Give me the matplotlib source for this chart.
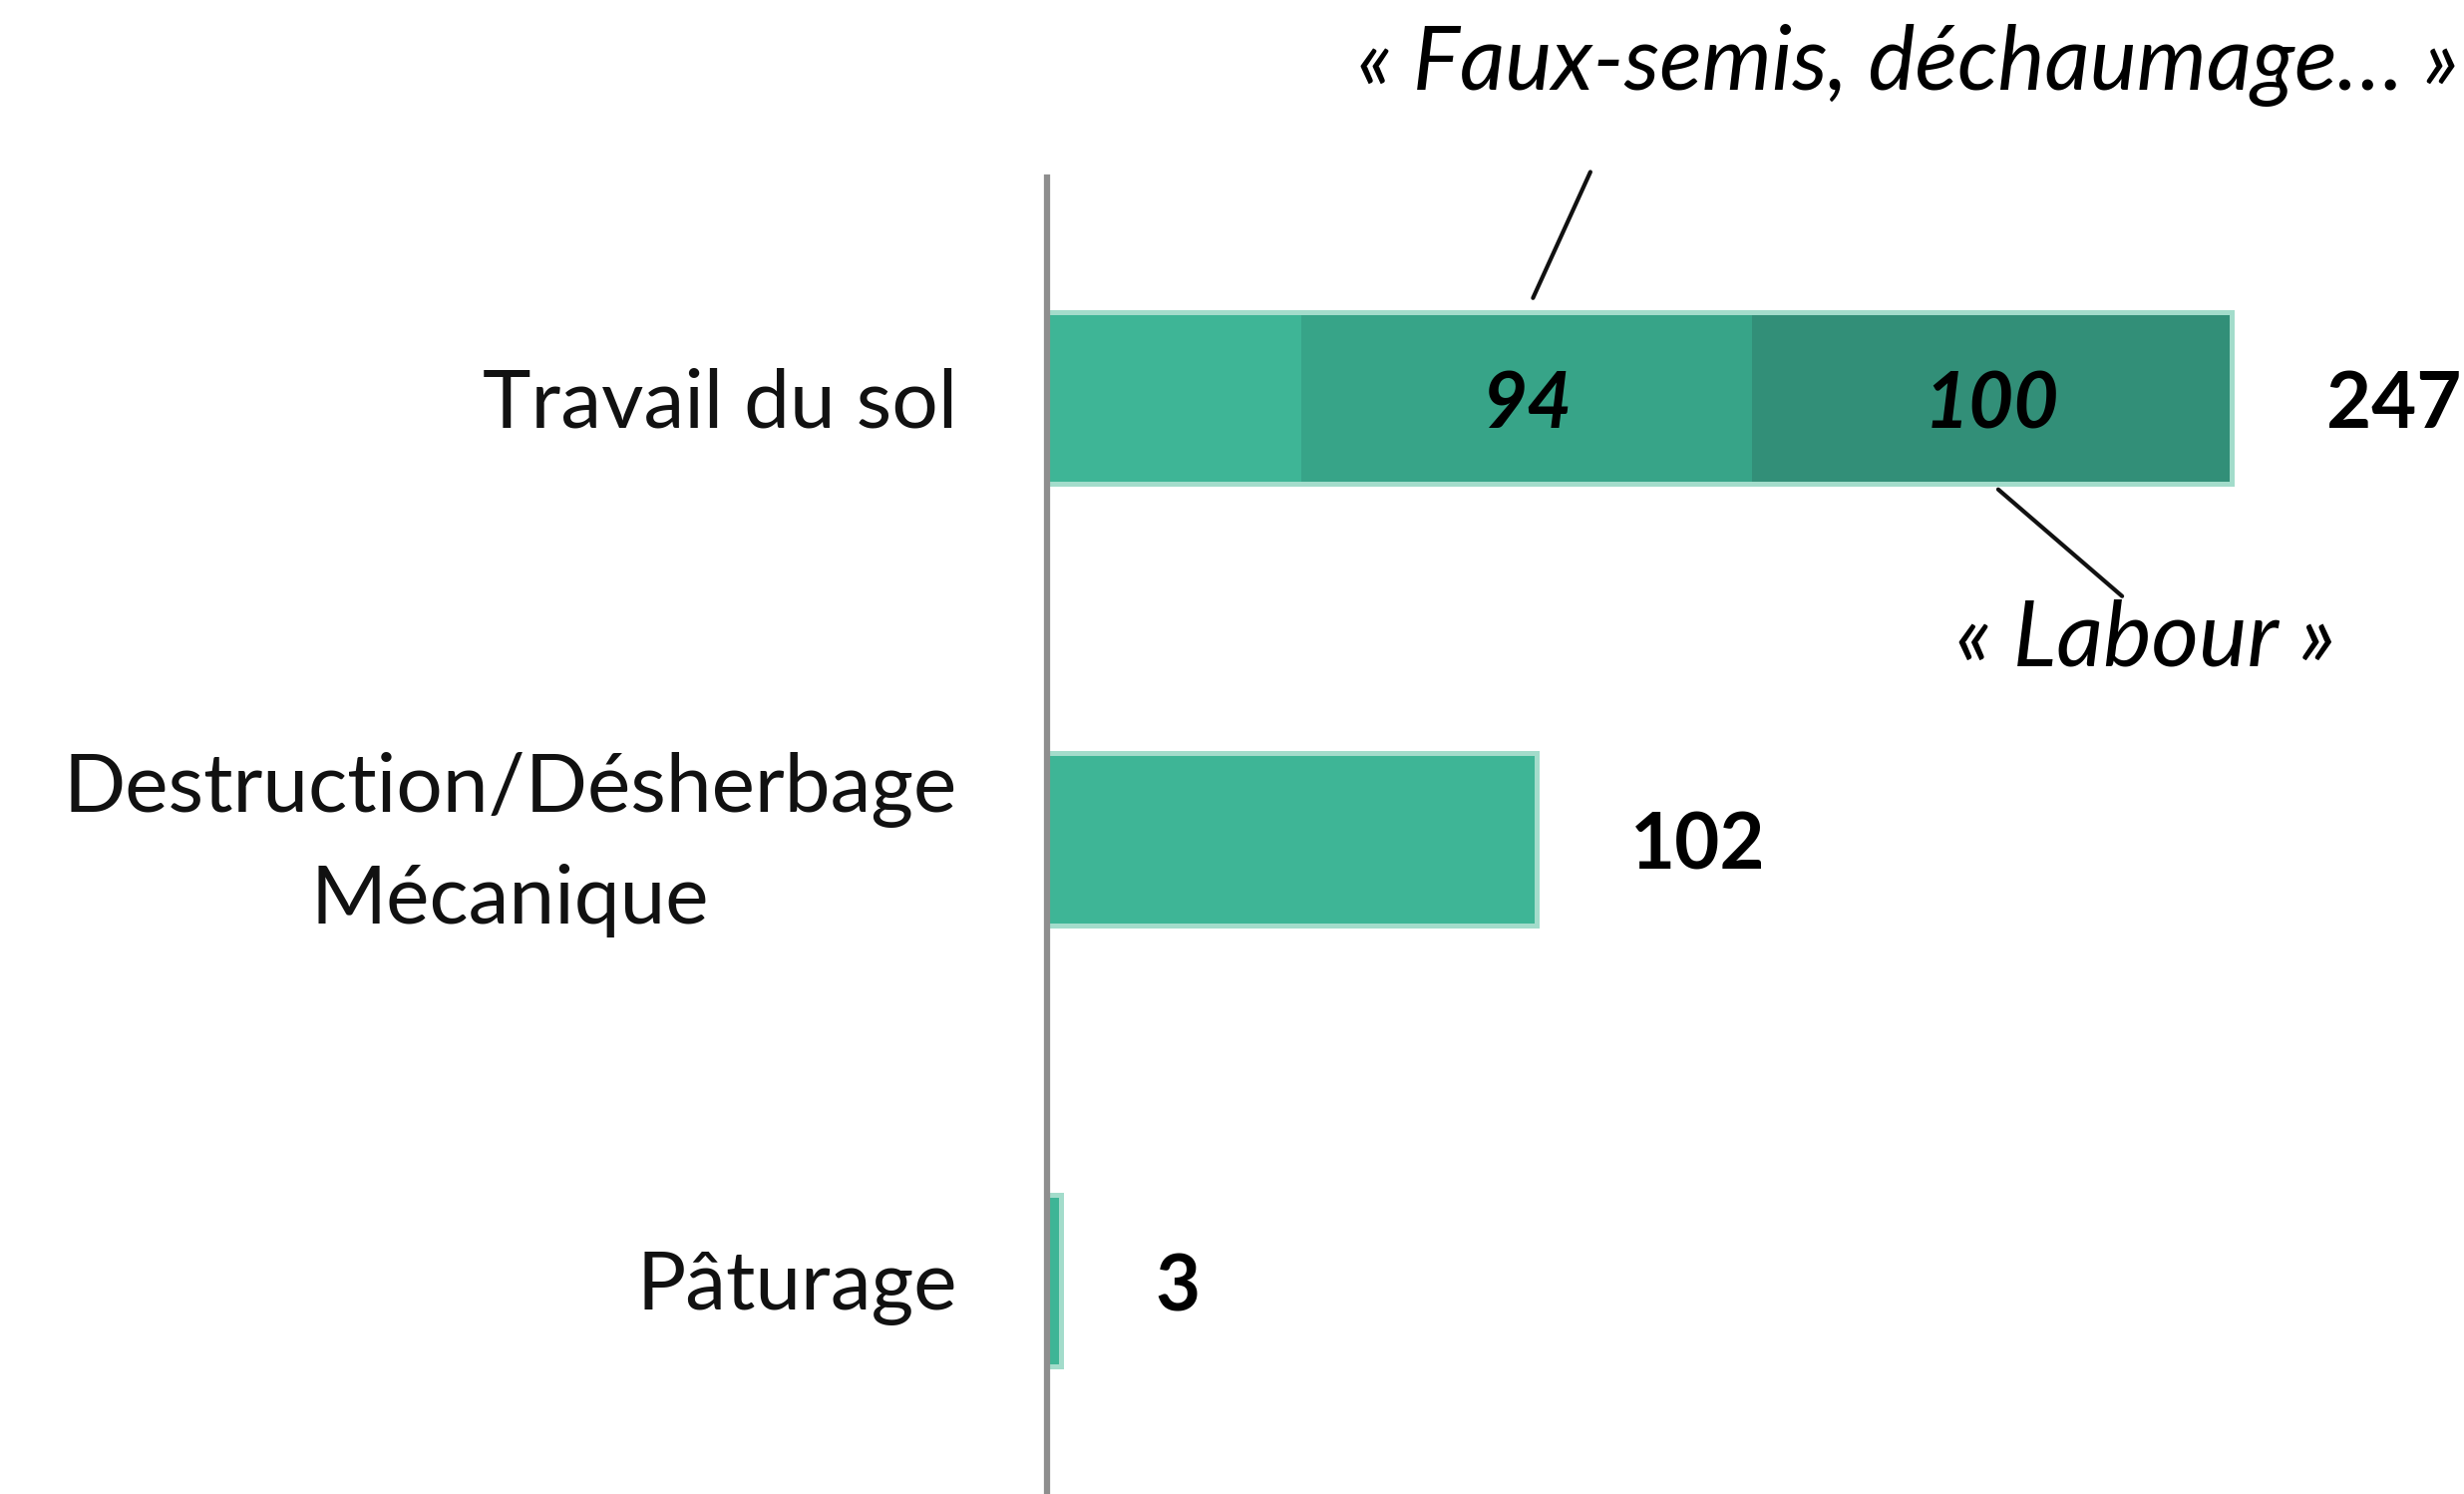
import numpy as np
import matplotlib
matplotlib.use('Agg')
import matplotlib.pyplot as plt

plt.rcParams['font.family'] = ['Lato', 'DejaVu Sans']

# data
categories = ['Travail du sol', 'Destruction/Désherbage\nMécanique', 'Pâturage']
totals = [247, 102, 3]
# detail of "Travail du sol": other, faux-semis/déchaumage, labour
sol_parts = [53, 94, 100]
sol_labels = ['', '94', '100']
note_faux = '« Faux-semis, déchaumage… »'
note_labour = '« Labour »'

# colours
c_main = '#3eb596'
c_faux = '#37a488'
c_labour = '#328f78'
c_edge = '#a3dccb'

W, H = 2471, 1498
fig = plt.figure(figsize=(W / 100, H / 100), dpi=100)
ax = fig.add_axes([1050 / W, 0, (W - 1050) / W, 1320 / H])

y = np.arange(len(categories))
bar_h = 0.39

# stacked bar for the first category
left = 0
part_colors = [c_main, c_faux, c_labour]
for val, col, lab in zip(sol_parts, part_colors, sol_labels):
    ax.barh(y[0], val, left=left, height=bar_h, color=col, edgecolor='none')
    if lab:
        ax.annotate(lab, xy=(left + val / 2, y[0]), xytext=(0, -6), textcoords='offset points',
                    ha='center', va='center', fontsize=56, fontweight='bold',
                    fontstyle='italic', color='#000000')
    left += val

# simple bars for the others
ax.barh(y[1:], totals[1:], height=bar_h, color=c_main, edgecolor='none')

# light outline round each whole bar
ax.barh(y, totals, height=bar_h, fill=False, edgecolor=c_edge, linewidth=3.6)

# totals at bar ends
for yi, tot in zip(y, totals):
    ax.annotate(str(tot), xy=(tot, yi), xytext=(68, -6), textcoords='offset points',
                ha='left', va='center', fontsize=56, fontweight='bold', color='#000000')

# category labels (drawn by hand so the two-line one sits centred on its bar)
for yi, cat in zip(y, categories):
    dy = 14 if '\n' in cat else 0
    ax.annotate(cat, xy=(0, yi), xytext=(-65, dy), textcoords='offset points',
                ha='right', va='center_baseline', multialignment='center', linespacing=1.6,
                fontsize=59, color='#111111', annotation_clip=False)

# leader lines for the notes
faux_x = sol_parts[0] + sol_parts[1] / 2
labour_x = sol_parts[0] + sol_parts[1] + sol_parts[2] / 2
ax.annotate('', xy=(faux_x, y[0] - bar_h / 2), xytext=(46, 101),
            textcoords='offset points',
            arrowprops=dict(arrowstyle='-', color='#111111', lw=3, shrinkA=0, shrinkB=11))
ax.annotate('', xy=(labour_x, y[0] + bar_h / 2), xytext=(94, -81),
            textcoords='offset points',
            arrowprops=dict(arrowstyle='-', color='#111111', lw=3, shrinkA=0, shrinkB=6))

fig.text(1361 / W, 1 - 90 / H, note_faux, ha='left', va='baseline',
         fontsize=64, fontstyle='italic', color='#000000')
fig.text(1961 / W, 1 - 668 / H, note_labour, ha='left', va='baseline',
         fontsize=66, fontstyle='italic', color='#000000')

# axes styling
ax.set_xlim(0, (W - 1050) / 4.81)
ax.set_ylim(2.4836, -0.4994)
ax.set_yticks([])
ax.set_xticks([])
for side in ['top', 'right', 'bottom']:
    ax.spines[side].set_visible(False)
ax.spines['left'].set_color('#8e8e8e')
ax.spines['left'].set_linewidth(4.5)

fig.savefig('out.png', dpi=100)
